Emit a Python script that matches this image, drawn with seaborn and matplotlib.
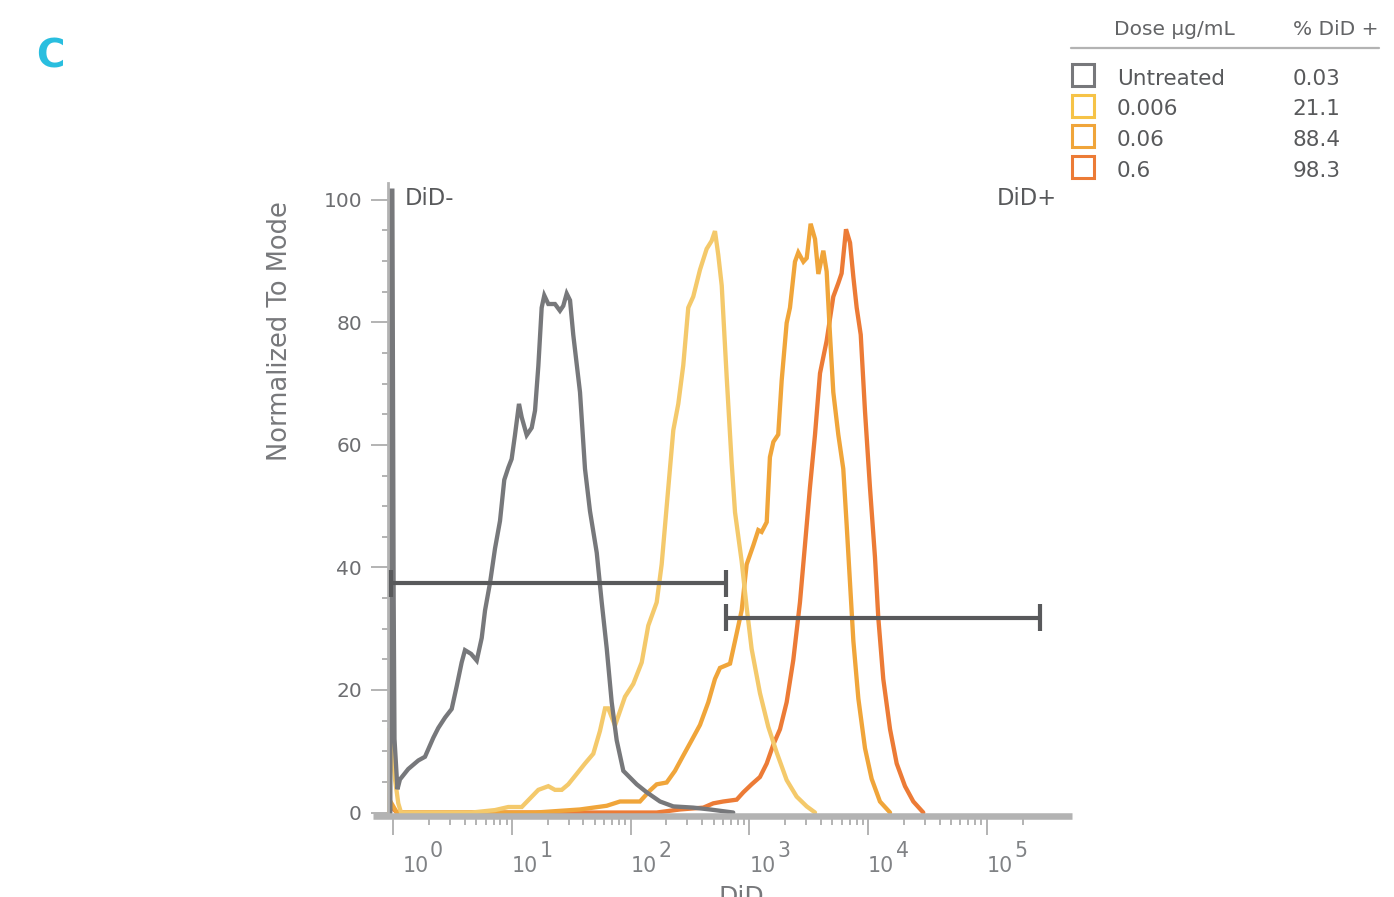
import numpy as np
import pandas as pd
import matplotlib
matplotlib.use("Agg")
import matplotlib.pyplot as plt
import seaborn as sns
from matplotlib.patches import Rectangle
from matplotlib.ticker import FixedLocator, NullFormatter
from matplotlib import transforms as mtrans

# ---------------- data (x = log10 DiD intensity, y = % of mode) ----------------
doses = ["Untreated", "0.006", "0.06", "0.6"]
pct_did_pos = ["0.03", "21.1", "88.4", "98.3"]

untreated_logx = [-0.025, -0.02, -0.008, 0.003, 0.01, 0.035, 0.056, 0.126, 0.211, 0.267,
                  0.337, 0.379, 0.436, 0.492, 0.534, 0.576, 0.604, 0.655, 0.703, 0.745,
                  0.773, 0.815, 0.857, 0.899, 0.935, 0.969, 0.997, 1.025, 1.059, 1.082,
                  1.124, 1.166, 1.194, 1.222, 1.250, 1.272, 1.306, 1.362, 1.404, 1.432,
                  1.461, 1.489, 1.516, 1.573, 1.615, 1.657, 1.714, 1.756, 1.798, 1.840,
                  1.882, 1.938, 2.051, 2.135, 2.247, 2.359, 2.527, 2.668, 2.864]
untreated_pct = [0, 101.5, 101.5, 35, 12, 3.8, 5.4, 7.1, 8.5, 9.1,
                 12.2, 13.8, 15.5, 16.9, 20.6, 24.5, 26.5, 25.9, 24.8, 28.5,
                 33.0, 37.5, 43.1, 47.6, 54.3, 56.3, 57.7, 61.6, 66.7, 64.5,
                 61.6, 62.8, 65.6, 72.9, 82.4, 84.4, 83.0, 83.0, 81.9, 82.7,
                 84.7, 83.6, 78.0, 68.6, 56.1, 49.2, 42.4, 34.3, 26.8, 18.0,
                 11.8, 6.8, 4.6, 3.3, 1.8, 1.0, 0.8, 0.5, 0.0]

d0006_logx = [-0.035, -0.03, -0.011, 0.014, 0.042, 0.065, 0.66, 0.857, 0.969, 1.082,
              1.137, 1.222, 1.306, 1.362, 1.419, 1.474, 1.545, 1.615, 1.685, 1.741,
              1.784, 1.811, 1.868, 1.952, 2.022, 2.093, 2.148, 2.219, 2.261, 2.303,
              2.359, 2.401, 2.443, 2.485, 2.527, 2.584, 2.640, 2.682, 2.710, 2.738,
              2.767, 2.809, 2.851, 2.879, 2.935, 2.977, 3.019, 3.089, 3.159, 3.230,
              3.314, 3.398, 3.483, 3.553]
d0006_pct = [0, 13.8, 10.5, 5.5, 1.5, 0, 0, 0.4, 0.9, 0.9,
             2.0, 3.7, 4.3, 3.7, 3.7, 4.6, 6.3, 8.0, 9.6, 13.3,
             17.0, 17.0, 14.2, 18.9, 21.0, 24.5, 30.5, 34.3, 40.5, 49.9,
             62.4, 66.7, 73.0, 82.4, 84.2, 88.6, 92.0, 93.3, 94.9, 91.0,
             86.0, 71.0, 57.0, 49.0, 41.0, 33.5, 26.7, 19.5, 14.0, 9.8,
             5.3, 2.6, 1.0, 0.0]

d006_logx = [-0.035, -0.03, 0.0, 0.03, 1.20, 1.573, 1.798, 1.910, 2.078, 2.163,
             2.219, 2.303, 2.373, 2.443, 2.514, 2.584, 2.654, 2.710, 2.752, 2.837,
             2.879, 2.935, 2.977, 3.033, 3.075, 3.103, 3.146, 3.173, 3.202, 3.243,
             3.272, 3.314, 3.342, 3.384, 3.412, 3.455, 3.483, 3.516, 3.553, 3.581,
             3.623, 3.651, 3.679, 3.707, 3.749, 3.791, 3.820, 3.848, 3.876, 3.918,
             3.974, 4.030, 4.100, 4.185]
d006_pct = [0, 2.0, 1.0, 0, 0, 0.5, 1.1, 1.8, 1.8, 3.6,
            4.6, 4.9, 6.8, 9.3, 11.8, 14.3, 18.0, 21.8, 23.6, 24.3,
            28.0, 33.0, 40.5, 43.6, 46.1, 45.8, 47.4, 58.0, 60.5, 61.7,
            70.5, 79.9, 82.4, 89.9, 91.4, 89.9, 90.5, 96.1, 93.6, 87.9,
            91.7, 88.3, 78.0, 68.6, 61.7, 56.1, 46.8, 37.4, 28.0, 18.6,
            10.5, 5.5, 1.8, 0.0]

d06_logx = [-0.035, -0.03, 0.0, 0.03, 2.219, 2.415, 2.612, 2.696, 2.780, 2.893,
            2.949, 3.019, 3.089, 3.146, 3.202, 3.258, 3.314, 3.370, 3.426, 3.468,
            3.510, 3.553, 3.595, 3.651, 3.707, 3.749, 3.777, 3.814, 3.848, 3.876,
            3.904, 3.938, 3.974, 4.016, 4.058, 4.086, 4.128, 4.185, 4.241, 4.311,
            4.381, 4.465]
d06_pct = [0, 1.5, 0.6, 0, 0, 0.5, 0.8, 1.5, 1.8, 2.1,
           3.3, 4.6, 5.8, 8.0, 11.1, 13.6, 18.0, 24.9, 34.3, 43.6,
           53.0, 61.7, 71.7, 77.0, 84.2, 86.4, 88.0, 95.2, 93.0, 87.4,
           82.4, 78.0, 65.5, 53.0, 41.7, 31.8, 21.8, 13.6, 8.0, 4.3,
           1.8, 0.0]

# gates: [name, log10 start, log10 end, level %]
gate_names = ["DiD-", "DiD+"]
gate_lo = [-0.019, 2.802]
gate_hi = [2.802, 5.448]
gate_level = [37.4, 31.8]

x_exponents = [0, 1, 2, 3, 4, 5]
y_ticks = [0, 20, 40, 60, 80, 100]

# ---------------- styling ----------------
line_colors = {"Untreated": "#77787b", "0.006": "#f4c96b", "0.06": "#f0a53a", "0.6": "#ec7b36"}
legend_colors = ["#77787b", "#f6c347", "#f0a53a", "#ec7b36"]
gate_color = "#58595b"
spine_color = "#b3b3b3"

sns.set_style("white")
plt.rcParams["font.family"] = ["DejaVu Sans"]

W, H = 1394, 897
fig = plt.figure(figsize=(W / 100, H / 100), dpi=100)


def fx(px):
    return px / W


def fy(py):
    return 1 - py / H


ax = fig.add_axes([fx(373), fy(816.2), (1072 - 373) / W, (816.2 - 182.7) / H])

frames = []
for name, lx, yy in [("0.6", d06_logx, d06_pct), ("0.06", d006_logx, d006_pct),
                     ("0.006", d0006_logx, d0006_pct), ("Untreated", untreated_logx, untreated_pct)]:
    frames.append(pd.DataFrame({"DiD": 10 ** np.asarray(lx, float), "pct": yy, "dose": name}))
df = pd.concat(frames, ignore_index=True)

sns.lineplot(data=df, x="DiD", y="pct", hue="dose", hue_order=["0.6", "0.06", "0.006", "Untreated"],
             palette=line_colors, estimator=None, sort=False, lw=3.1, legend=False, ax=ax,
             solid_joinstyle="miter")

ax.set_xscale("log")
ax.set_xlim(10 ** -0.171, 10 ** 5.718)
ax.set_ylim(-0.6, 102.8)
ax.set_xlabel("")
ax.set_ylabel("")

# gates
for lo, hi, lvl in zip(gate_lo, gate_hi, gate_level):
    ax.plot([10 ** lo, 10 ** hi], [lvl, lvl], color=gate_color, lw=3.0, solid_capstyle="butt", zorder=5)
    ax.vlines([10 ** lo, 10 ** hi], lvl - 2.2, lvl + 2.2, color=gate_color, lw=3.0, zorder=5)

# spines
for s in ["top", "right"]:
    ax.spines[s].set_visible(False)
ax.spines["left"].set_position(("data", 10 ** -0.045))
ax.spines["left"].set_color(spine_color)
ax.spines["left"].set_linewidth(2.0)
ax.spines["bottom"].set_color(spine_color)
ax.spines["bottom"].set_linewidth(4.7)
ax.spines["bottom"].set_capstyle("butt")

# y ticks
ax.yaxis.set_major_locator(FixedLocator(y_ticks))
ax.yaxis.set_minor_locator(FixedLocator([v for v in range(5, 100, 5) if v % 20]))
ax.set_yticklabels([str(v) for v in y_ticks])
ax.tick_params(axis="y", which="major", left=True, length=12.2, width=1.4, color=spine_color,
               labelcolor="#6d6e71", labelsize=14.5, pad=6.5)
ax.tick_params(axis="y", which="minor", left=True, length=4.3, width=1.4, color=spine_color)

# x ticks
ax.xaxis.set_major_locator(FixedLocator([10 ** k for k in x_exponents]))
minors = [m * 10 ** k for k in range(0, 5) for m in range(2, 10)] + [2e5]
ax.xaxis.set_minor_locator(FixedLocator(minors))
ax.xaxis.set_major_formatter(NullFormatter())
ax.xaxis.set_minor_formatter(NullFormatter())
ax.tick_params(axis="x", which="major", bottom=True, length=13.7, width=1.4, color=spine_color)
ax.tick_params(axis="x", which="minor", bottom=True, length=6.5, width=1.4, color=spine_color)

# custom x tick labels 10^k with large exponent
base = mtrans.blended_transform_factory(ax.transData, fig.transFigure)
tick_c = "#808285"
renderer = fig.canvas.get_renderer()
for k in x_exponents:
    dx = 9 if k == 0 else 0
    t = ax.text(10 ** k, fy(872), "10", transform=mtrans.offset_copy(base, fig=fig, x=dx, y=0, units="dots"),
                ha="left", va="baseline", fontsize=14.8, color=tick_c)
    bb = t.get_window_extent(renderer=renderer)
    fig.text((bb.x1 + 1.5) / W, fy(857), str(k), ha="left", va="baseline", fontsize=14.8, color=tick_c)

# axis labels
fig.text(fx(280), fy(331), "Normalized To Mode", rotation=90, ha="center", va="center",
         fontsize=18.5, color="#77787b")
fig.text(fx(741), fy(885), "DiD", ha="center", va="top", fontsize=18, color="#77787b")

# gate labels
fig.text(fx(405), fy(205), gate_names[0], ha="left", va="baseline", fontsize=16.3, color=gate_color)
fig.text(fx(996.7), fy(205), gate_names[1], ha="left", va="baseline", fontsize=16.3, color=gate_color)

# panel letter
fig.text(fx(36), fy(67), "C", ha="left", va="baseline", fontsize=28, fontweight="bold", color="#29bedf")

# legend table
head_c = "#636466"
row_c = "#58595b"
fig.text(fx(1114), fy(35), "Dose µg/mL", ha="left", va="baseline", fontsize=14.5, color=head_c)
fig.text(fx(1292.7), fy(35), "% DiD +", ha="left", va="baseline", fontsize=14.5, color=head_c)
fig.add_artist(plt.Line2D([fx(1070.7), fx(1379.3)], [fy(48), fy(48)], transform=fig.transFigure,
                          color=spine_color, lw=1.6))
row_centers = [75.3, 105.7, 136.3, 167.2]
for name, val, col, cy in zip(doses, pct_did_pos, legend_colors, row_centers):
    fig.add_artist(Rectangle((fx(1071.5), fy(cy + 11)), 22 / W, 22 / H, transform=fig.transFigure,
                             fill=False, edgecolor=col, lw=2.2))
    fig.text(fx(1116.7), fy(cy + 9.7), name, ha="left", va="baseline", fontsize=15.5, color=row_c)
    fig.text(fx(1292.7), fy(cy + 9.7), val, ha="left", va="baseline", fontsize=15.5, color=row_c)

fig.savefig("out.png", dpi=100)
